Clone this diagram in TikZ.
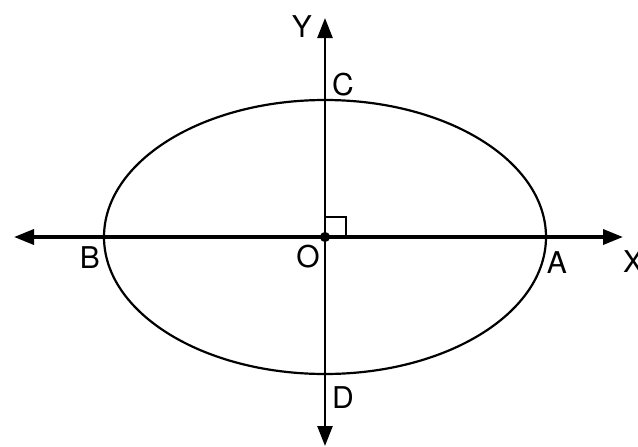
\documentclass[tikz,border=0pt]{standalone}
\usepackage{fontspec}
\setmainfont{TeX Gyre Heros}
\usetikzlibrary{arrows.meta}

\tikzset{
    punkt/.style={circle, fill, inner sep=3.6pt},
    achse/.style={-{Triangle[length=20pt,width=15pt]}},
    buchst/.style={font=\fontsize{30}{36}\selectfont, inner sep=0pt}
}

\begin{document}
\begin{tikzpicture}[x=1pt,y=-1pt]
    \useasboundingbox (0,0) rectangle (638,447);
    \path node[punkt] (O) at (325,237) {}
        coordinate (XL) at (14,237) coordinate (XR) at (623,237)
        coordinate (YO) at (325,18) coordinate (YU) at (325,446)
        node[buchst] (lY) at (302,27) {Y}
        node[buchst] (lX) at (633,262) {X}
        node[buchst] (lC) at (343,85) {C}
        node[buchst] (lD) at (343,398) {D}
        node[buchst] (lB) at (90,258) {B}
        node[buchst] (lO) at (308,257) {O}
        node[buchst] (lA) at (557,263) {A};
        \draw[line width=2.2pt] (O.center) ellipse [x radius=221pt, y radius=137pt];
        \draw[achse, line width=3.5pt] (O.center) -- (XL);
        \draw[achse, line width=3.5pt] (O.center) -- (XR);
        \draw[achse, line width=2.5pt] (O.center) -- (YO);
        \draw[achse, line width=2.5pt] (O.center) -- (YU);
        \draw[line width=2pt] (O.center) ++(0,-20) -| ++(21,20);
    \end{tikzpicture}
\end{document}
